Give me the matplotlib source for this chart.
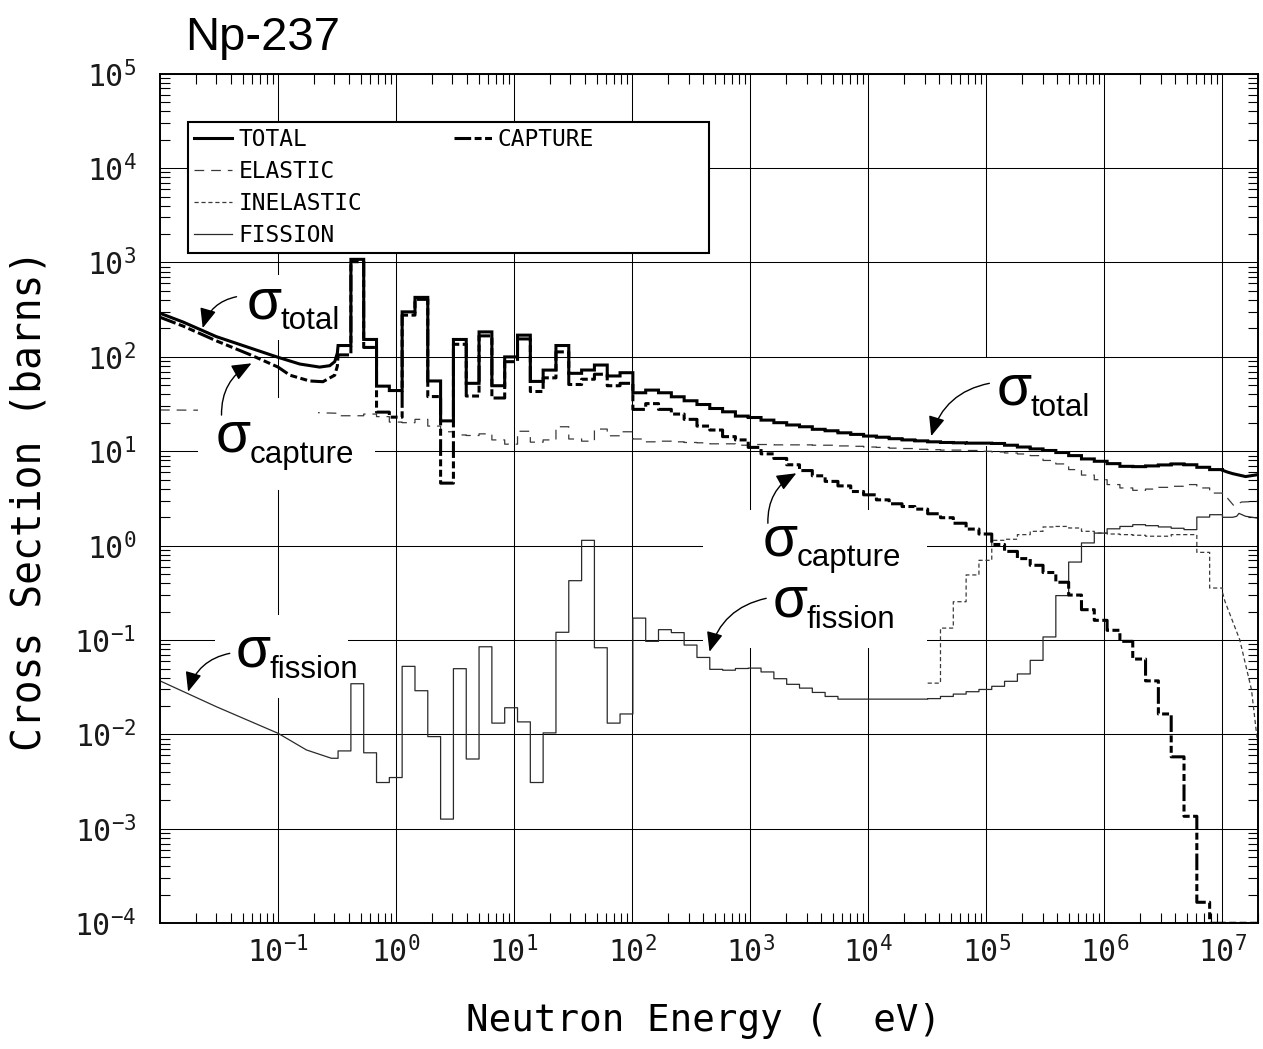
import numpy as np
import matplotlib
matplotlib.use("Agg")
import matplotlib.pyplot as plt
from matplotlib.lines import Line2D
from matplotlib.patches import Rectangle
from matplotlib.ticker import LogLocator, NullFormatter, FixedLocator

plt.rcParams['font.family'] = ['DejaVu Sans Mono', 'DejaVu Sans']
plt.rcParams['lines.scale_dashes'] = False

# ---------------- data ----------------
group_edges_eV = [0.3224, 0.4140, 0.5316, 0.6826, 0.8764, 1.125, 1.445, 1.855, 2.382, 3.059,
                  3.928, 5.043, 6.476, 8.315, 10.68, 13.71, 17.60, 22.60, 29.02, 37.27,
                  47.85, 61.44, 78.89, 101.3, 130.1, 167.0, 214.5, 275.4, 353.6, 454.0,
                  582.9, 748.5, 961.1, 1234, 1585, 2035, 2613, 3355, 4307, 5531,
                  7102, 9119, 11710, 15030, 19310, 24790, 31830, 40870, 52480, 67380,
                  86520, 111100, 142600, 183200, 235200, 302000, 387700, 497900, 639300, 820800,
                  1054000, 1353000, 1738000, 2231000, 2865000, 3679000, 4724000, 6065000, 7788000,
                  10000000]

total_b = [132, 1080, 153, 49, 44, 300, 427, 55.6, 21, 153,
           52.5, 184, 49.5, 100, 170, 55, 72.5, 132, 67, 72.6,
           82, 62.8, 68, 41.7, 44.5, 41.7, 37.8, 34.3, 31.3, 28.4,
           26.2, 23.6, 22.8, 21.4, 20.1, 19.0, 18.2, 17.1, 16.5, 15.7,
           15.1, 14.5, 14.1, 13.6, 13.2, 12.9, 12.6, 12.4, 12.3, 12.2,
           12.2, 12.1, 11.6, 11.1, 10.6, 10.2, 9.7, 9.0, 8.3, 7.84,
           7.4, 6.93, 6.88, 7.0, 7.17, 7.35, 7.2, 6.77, 6.4]

capture_b = [105, 1020, 126, 26, 23, 277, 407, 38, 4.6, 136,
             38.5, 167, 36.7, 89, 155, 43, 60, 113, 51, 58,
             65.5, 49.5, 52.5, 27.8, 32, 27.8, 24.8, 21.8, 18.5, 16.8,
             14.3, 13.2, 11.0, 9.4, 8.4, 7.2, 6.25, 5.5, 4.8, 4.3,
             3.75, 3.46, 3.06, 2.78, 2.6, 2.44, 2.18, 1.98, 1.73, 1.5,
             1.33, 1.03, 0.87, 0.73, 0.62, 0.52, 0.41, 0.30, 0.21, 0.162,
             0.127, 0.097, 0.063, 0.037, 0.0165, 0.0058, 0.00136, 0.000167, 0.0001]

elastic_b = [23.8, 23.8, 24.8, 23.3, 20.4, 20.1, 21.8, 18.5, 16.1, 14.9,
             14.7, 15.3, 13.2, 11.9, 16.3, 12.5, 13.2, 18.2, 13.5, 12.8,
             17.2, 14.6, 16.1, 13.5, 12.6, 12.8, 12.6, 12.4, 12.3, 12.0,
             12.0, 11.6, 11.8, 11.8, 11.7, 11.7, 11.7, 11.6, 11.6, 11.4,
             11.3, 11.1, 11.0, 10.8, 10.7, 10.5, 10.4, 10.3, 10.3, 10.2,
             10.0, 9.84, 9.6, 9.37, 9.0, 8.0, 7.35, 6.4, 5.6, 5.0,
             4.44, 4.09, 3.86, 3.98, 4.15, 4.26, 4.44, 4.09, 3.61]

fission_b = [0.0067, 0.0345, 0.0064, 0.0031, 0.0035, 0.0527, 0.0291, 0.0095, 0.00127, 0.0498,
             0.0055, 0.085, 0.0132, 0.0192, 0.0136, 0.0031, 0.0104, 0.121, 0.426, 1.14,
             0.083, 0.0132, 0.0165, 0.171, 0.097, 0.129, 0.12, 0.0886, 0.0655, 0.049,
             0.048, 0.050, 0.0505, 0.046, 0.039, 0.034, 0.031, 0.0279, 0.0253, 0.0237,
             0.0237, 0.0237, 0.0237, 0.0237, 0.0237, 0.0237, 0.024, 0.0253, 0.0268, 0.0284,
             0.030, 0.0324, 0.0366, 0.0438, 0.061, 0.108, 0.296, 0.671, 1.07, 1.36,
             1.51, 1.60, 1.67, 1.63, 1.58, 1.53, 1.48, 2.01, 2.13]

inelastic_first_group = 46
inelastic_b = [0.035, 0.134, 0.255, 0.49, 0.70, 1.14, 1.17, 1.31, 1.42, 1.58,
               1.60, 1.54, 1.42, 1.36, 1.33, 1.31, 1.29, 1.26, 1.26, 1.31,
               1.31, 0.85, 0.356]

# pointwise (non-grouped) parts below 0.32 eV and above 10 MeV
thermal_E_total = [0.01, 0.0157, 0.03, 0.0575, 0.1, 0.153, 0.225, 0.274, 0.302, 0.318]
thermal_total = [290, 234, 164, 125, 99, 84, 78, 80.7, 89, 110]
thermal_E_capture = [0.01, 0.0157, 0.03, 0.0575, 0.1, 0.126, 0.185, 0.24, 0.302, 0.318]
thermal_capture = [263, 212, 148, 106, 78, 64, 55.6, 54.6, 64, 80]
thermal_E_elastic = [0.01, 0.03, 0.1, 0.25, 0.3224]
thermal_elastic = [27.4, 27.2, 26.5, 25.5, 25.3]
thermal_E_fission = [0.01, 0.03, 0.1, 0.174, 0.283, 0.3224]
thermal_fission = [0.037, 0.0197, 0.0103, 0.00686, 0.0056, 0.0056]

fast_E_total = [1.0e7, 1.1e7, 1.22e7, 1.57e7, 1.98e7]
fast_total = [6.3, 6.03, 5.8, 5.4, 5.65]
fast_E_capture = [1.0e7, 1.98e7]
fast_capture = [1e-4, 1e-4]
fast_E_elastic = [1.0e7, 1.1e7, 1.25e7, 1.45e7, 1.98e7]
fast_elastic = [3.4, 3.2, 2.65, 2.9, 2.95]
fast_E_fission = [1.0e7, 1.22e7, 1.32e7, 1.38e7, 1.57e7, 1.98e7]
fast_fission = [2.0, 2.0, 2.05, 2.2, 2.05, 1.96]
fast_E_inelastic = [1.0e7, 1.05e7, 1.4e7, 1.76e7, 2.0e7]
fast_inelastic = [0.32, 0.257, 0.101, 0.030, 0.0075]

legend_labels = ['TOTAL', 'ELASTIC', 'INELASTIC', 'FISSION', 'CAPTURE']
x_tick_values = [1e-1, 1e0, 1e1, 1e2, 1e3, 1e4, 1e5, 1e6, 1e7]
y_tick_values = [1e-4, 1e-3, 1e-2, 1e-1, 1e0, 1e1, 1e2, 1e3, 1e4, 1e5]

# ---------------- helpers ----------------
def stair_xy(edges, values):
    e = np.asarray(edges, float)
    v = np.asarray(values, float)
    return np.repeat(e, 2)[1:-1], np.repeat(v, 2)

def series(thE, thV, edges, vals, fE, fV):
    sx, sy = stair_xy(edges, vals)
    xs = np.concatenate([np.asarray(thE, float), sx, np.asarray(fE, float)])
    ys = np.concatenate([np.asarray(thV, float), sy, np.asarray(fV, float)])
    return xs, ys

W, H = 1263, 1049
AX_L, AX_R, AX_T, AX_B = 160, 1258, 73.7, 923.3

def fx(px):
    return (px - AX_L) / (AX_R - AX_L)

def fy(py):
    return (AX_B - py) / (AX_B - AX_T)

fig = plt.figure(figsize=(W / 100, H / 100), dpi=100)
ax = fig.add_axes([AX_L / W, 1 - AX_B / H, (AX_R - AX_L) / W, (AX_B - AX_T) / H])
ax.set_xscale('log')
ax.set_yscale('log')
ax.set_xlim(1e-2, 2e7)
ax.set_ylim(1e-4, 1e5)

# styles
thick = dict(color='black', lw=2.2, solid_joinstyle='miter')
cap_style = dict(color='black', lw=2.2, dashes=(12, 2.5, 5, 2.5, 5, 2.5))
el_style = dict(color='#3a3a3a', lw=0.9, dashes=(7, 5))
inel_style = dict(color='#3a3a3a', lw=0.9, dashes=(3, 2))
fis_style = dict(color='#2a2a2a', lw=0.9)

# thin series
x, y = series(thermal_E_elastic, thermal_elastic, group_edges_eV, elastic_b, fast_E_elastic, fast_elastic)
ax.plot(x, y, zorder=2, **el_style)
x, y = series(thermal_E_fission, thermal_fission, group_edges_eV, fission_b, fast_E_fission, fast_fission)
ax.plot(x, y, zorder=2, **fis_style)
x, y = series([], [], group_edges_eV[inelastic_first_group:], inelastic_b, fast_E_inelastic, fast_inelastic)
ax.plot(x, y, zorder=2, **inel_style)

# thick series
x, y = series(thermal_E_capture, thermal_capture, group_edges_eV, capture_b, fast_E_capture, fast_capture)
ax.plot(x, y, zorder=4, **cap_style)
x, y = series(thermal_E_total, thermal_total, group_edges_eV, total_b, fast_E_total, fast_total)
ax.plot(x, y, zorder=4, **thick)

# grid, ticks
ax.set_axisbelow(True)
ax.xaxis.set_major_locator(FixedLocator(x_tick_values))
ax.yaxis.set_major_locator(FixedLocator(y_tick_values))
ax.xaxis.set_minor_locator(LogLocator(base=10, subs=np.arange(2, 10), numticks=60))
ax.yaxis.set_minor_locator(LogLocator(base=10, subs=np.arange(2, 10), numticks=60))
ax.xaxis.set_minor_formatter(NullFormatter())
ax.yaxis.set_minor_formatter(NullFormatter())
ax.grid(True, which='major', color='black', lw=0.75)
ax.tick_params(which='minor', direction='in', length=7, width=0.8, top=True, right=True,
               bottom=True, left=True)
ax.tick_params(which='major', length=0, labelsize=21.5, labelcolor='#1a1a1a')
ax.tick_params(axis='x', which='major', pad=9)
ax.tick_params(axis='y', which='major', pad=17)
for s in ax.spines.values():
    s.set_linewidth(1.4)

ax.set_xlabel('Neutron Energy (  eV)', fontsize=27, family='DejaVu Sans Mono')
ax.xaxis.set_label_coords(0.4955, fy(1003))
ax.set_ylabel('Cross Section (barns)', fontsize=28.5, family='DejaVu Sans Mono')
ax.yaxis.set_label_coords(fx(50), fy(500))

fig.text(185 / W, 1 - 50 / H, 'Np-237', fontsize=34, family='Liberation Sans',
         ha='left', va='baseline')

# white masks behind the curve labels
masks = [(240, 275, 345, 340), (198, 398, 318, 470), (248, 428, 375, 490),
         (215, 615, 348, 698), (925, 358, 1095, 446), (703, 510, 927, 648)]
for (x0, y0, x1, y1) in masks:
    ax.add_patch(Rectangle((fx(x0), fy(y1)), fx(x1) - fx(x0), fy(y0) - fy(y1),
                           transform=ax.transAxes, facecolor='white', edgecolor='none',
                           zorder=3))

# curve labels: (subscript, sigma position, arrow tail, arrow head, rad)
labels = [
    ('total', (0.0543, 258), (0.0445, 434), (0.023, 202), 0.3),
    ('capture', (0.0297, 9.9), (0.0332, 24.2), (0.0596, 85.5), -0.3),
    ('fission', (0.0439, 0.0523), (0.039, 0.0724), (0.0173, 0.0284), 0.3),
    ('total', (1.21e5, 31), (1.06e5, 52.5), (3.41e4, 14.5), 0.3),
    ('capture', (1270, 0.797), (1410, 1.73), (2455, 5.85), -0.3),
    ('fission', (1545, 0.177), (1365, 0.277), (452, 0.0753), 0.3),
]
for sub, pos, tail, head, rad in labels:
    ax.text(pos[0], pos[1], '\u03c3', fontsize=41, ha='left', va='baseline', zorder=6,
            family='Liberation Sans')
    ax.annotate(sub, xy=pos, xytext=(24.5, -8), textcoords='offset points',
                fontsize=22.5, ha='left', va='baseline', zorder=6, family='Liberation Sans')
    ax.annotate('', xy=head, xytext=tail, zorder=6,
                arrowprops=dict(arrowstyle='-|>,head_length=0.6,head_width=0.25',
                                connectionstyle='arc3,rad=%g' % rad, color='black', lw=1.0,
                                mutation_scale=20, shrinkA=0, shrinkB=0))

# legend
h_total = Line2D([], [], **thick)
h_el = Line2D([], [], **el_style)
h_inel = Line2D([], [], **inel_style)
h_fis = Line2D([], [], **fis_style)
h_cap = Line2D([], [], **cap_style)
lprop = {'family': 'DejaVu Sans Mono', 'size': 16.5}
leg1 = ax.legend([h_total, h_el, h_inel, h_fis], legend_labels[:4], loc='upper left',
                 bbox_to_anchor=(fx(188), fy(122), fx(709) - fx(188), 0), mode='expand',
                 ncol=1, borderaxespad=0, borderpad=0.25, labelspacing=0.4,
                 handlelength=1.66, handletextpad=0.3, fancybox=False, framealpha=1,
                 edgecolor='black', prop=lprop)
leg1.get_frame().set_linewidth(1.5)
leg1.set_zorder(7)
ax.add_artist(leg1)
leg2 = ax.legend([h_cap], legend_labels[4:], loc='upper left',
                 bbox_to_anchor=(fx(448), fy(122)), frameon=False, borderaxespad=0,
                 borderpad=0.25, handlelength=1.75, handletextpad=0.17, prop=lprop)
leg2.set_zorder(8)

fig.savefig('out.png', dpi=100)
